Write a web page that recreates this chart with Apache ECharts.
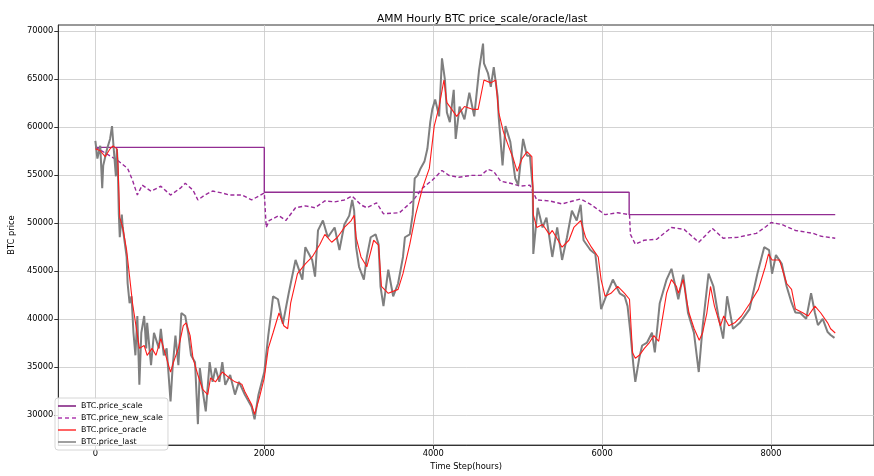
<!DOCTYPE html>
<html>
<head>
<meta charset="utf-8">
<script src="https://cdn.jsdelivr.net/npm/echarts@6/dist/echarts.min.js"></script>
<style>
  html, body { margin: 0; padding: 0; background: #fff; }
  #chart { width: 874px; height: 476px; }
</style>
</head>
<body>
<div id="chart"></div>
<script>
// tick labels
var xTicks = [0, 2000, 4000, 6000, 8000];
var yTicks = [30000, 35000, 40000, 45000, 50000, 55000, 60000, 65000, 70000];

// [hour, price]
var priceScale = [[0, 57870], [2000, 57870], [2000, 53200], [6320, 53200], [6320, 50870], [8760, 50870]];

var priceNewScale = [
  [0, 57900], [266, 56500], [382, 55680], [440, 54450], [497, 52920], [555, 53940], [659, 53320],
  [775, 53830], [890, 52910], [1006, 53630], [1064, 54140], [1156, 53420], [1214, 52400], [1295, 52910],
  [1388, 53330], [1503, 53120], [1584, 52920], [1734, 52920], [1850, 52400], [2000, 53120], [2023, 49540],
  [2058, 50260], [2174, 50770], [2255, 50260], [2370, 51590], [2486, 51790], [2601, 51590], [2717, 52300],
  [2832, 52200], [2948, 52400], [3040, 52810], [3144, 51890], [3214, 51590], [3330, 52100], [3410, 50970],
  [3600, 51070], [3757, 52300], [3873, 53630], [3988, 54450], [4104, 55470], [4185, 54960], [4301, 54760],
  [4451, 54960], [4566, 54960], [4648, 55580], [4717, 55370], [4798, 54350], [4914, 54140], [5029, 53840],
  [5145, 53940], [5226, 52400], [5376, 52300], [5526, 51990], [5746, 52510], [5873, 51890], [6035, 50870],
  [6185, 51070], [6324, 50870], [6335, 48820], [6393, 47800], [6497, 48210], [6647, 48310], [6820, 49540],
  [6971, 49340], [7144, 48000], [7306, 49440], [7433, 48420], [7607, 48520], [7827, 48930], [7942, 49640],
  [8000, 50050], [8127, 49850], [8289, 49230], [8497, 48930], [8595, 48620], [8760, 48420]
];

var priceOracle = [
  [0, 57730], [58, 57520], [116, 56900], [174, 57720], [208, 58030], [255, 57720], [266, 56390],
  [289, 50560], [324, 49540], [370, 47190], [405, 44430], [440, 41660], [486, 38990], [521, 36960],
  [578, 37260], [613, 36240], [671, 36960], [717, 36240], [775, 37980], [833, 36240], [890, 34500],
  [925, 35530], [983, 36960], [1041, 39330], [1075, 39620], [1122, 38290], [1156, 35930], [1214, 34190],
  [1272, 32660], [1330, 32150], [1364, 33890], [1422, 33480], [1503, 34500], [1584, 33890], [1653, 33480],
  [1734, 33240], [1769, 32470], [1850, 31130], [1885, 30100], [1942, 31840], [2000, 33890], [2047, 36960],
  [2104, 38590], [2174, 40640], [2231, 39310], [2277, 39000], [2312, 41660], [2393, 44730], [2486, 45750],
  [2567, 46470], [2659, 47800], [2717, 48820], [2798, 48000], [2867, 48520], [2948, 49540], [3029, 50260],
  [3064, 50800], [3087, 48500], [3145, 46470], [3214, 45450], [3295, 48210], [3353, 47700], [3387, 43400],
  [3468, 42690], [3584, 43100], [3642, 44730], [3723, 47800], [3792, 50870], [3873, 53630], [3954, 55680],
  [4012, 60080], [4070, 62120], [4127, 64880], [4162, 62530], [4220, 61820], [4278, 61100], [4370, 62120],
  [4474, 61820], [4532, 61820], [4601, 64880], [4682, 64580], [4740, 64880], [4775, 61510], [4832, 59450],
  [4890, 58030], [4948, 56700], [4994, 55370], [5052, 56700], [5110, 57420], [5168, 56900], [5179, 53940],
  [5185, 50870], [5226, 49540], [5295, 49850], [5376, 48820], [5410, 49230], [5526, 47490], [5607, 48210],
  [5665, 49540], [5746, 50260], [5804, 48520], [5873, 47490], [5954, 46470], [5988, 44120], [6035, 42380],
  [6104, 42690], [6185, 43400], [6266, 42690], [6324, 42070], [6360, 36500], [6393, 35930], [6440, 36240],
  [6500, 36960], [6560, 37570], [6613, 38290], [6670, 37700], [6705, 39620], [6763, 42690], [6821, 44120],
  [6880, 43400], [6902, 42690], [6960, 44120], [7000, 42000], [7029, 40640], [7090, 39000], [7150, 37800],
  [7190, 38590], [7240, 40640], [7283, 43400], [7330, 41360], [7400, 39310], [7440, 40330], [7500, 39310],
  [7570, 39620], [7650, 40330], [7750, 41660], [7850, 43100], [7930, 45400], [7970, 46780], [8012, 46160],
  [8100, 46160], [8185, 43710], [8243, 43100], [8289, 41050], [8381, 40640], [8439, 40330], [8520, 41360],
  [8589, 40640], [8670, 39620], [8705, 39000], [8760, 38560]
];

var priceLast = [
  [0, 58540], [24, 56700], [58, 58030], [81, 53630], [93, 55990], [139, 57720], [174, 58750], [197, 60080],
  [220, 57420], [243, 54860], [255, 57720], [266, 55680], [278, 50870], [289, 48520], [313, 50870],
  [324, 49540], [347, 49540], [370, 46470], [382, 43710], [405, 41660], [428, 42380], [451, 38590],
  [474, 36240], [497, 40330], [521, 33170], [544, 38590], [578, 40330], [602, 36960], [613, 39620],
  [659, 35220], [694, 38590], [752, 36960], [775, 39000], [810, 36240], [844, 36960], [890, 31430],
  [914, 34910], [948, 38290], [983, 35220], [1018, 40640], [1064, 40330], [1099, 38590], [1133, 36240],
  [1180, 35530], [1214, 29080], [1237, 34910], [1272, 32460], [1307, 30410], [1353, 35530], [1388, 33480],
  [1422, 34910], [1468, 33480], [1503, 35530], [1538, 33170], [1596, 34190], [1653, 32150], [1700, 33480],
  [1769, 32150], [1850, 30890], [1885, 29590], [1931, 32150], [2000, 34500], [2047, 38290], [2081, 40640],
  [2104, 42380], [2162, 42070], [2220, 39510], [2289, 42690], [2370, 46160], [2451, 44120], [2486, 47490],
  [2567, 46160], [2601, 44430], [2636, 49240], [2694, 50260], [2752, 48520], [2833, 49540], [2890, 47190],
  [2948, 49850], [3006, 50770], [3041, 52410], [3064, 51280], [3087, 47490], [3122, 45450], [3179, 44120],
  [3214, 46470], [3260, 48520], [3318, 48820], [3353, 47800], [3376, 43400], [3411, 41360], [3468, 45140],
  [3526, 42380], [3584, 43710], [3642, 46470], [3665, 48520], [3723, 48820], [3757, 50870], [3781, 54650],
  [3815, 54960], [3850, 55680], [3896, 56390], [3931, 57720], [3965, 60490], [3989, 61820], [4023, 62840],
  [4070, 61100], [4104, 67140], [4139, 64880], [4162, 61510], [4197, 60490], [4243, 63860], [4266, 58750],
  [4312, 62120], [4370, 60790], [4428, 63560], [4486, 61100], [4543, 65910], [4590, 68670], [4601, 66620],
  [4648, 65600], [4682, 64170], [4717, 66210], [4763, 63150], [4775, 61100], [4821, 55990], [4856, 60080],
  [4913, 58440], [4971, 54650], [5006, 53940], [5064, 58750], [5110, 57010], [5145, 57010], [5179, 53630],
  [5185, 46780], [5237, 51590], [5295, 49540], [5341, 50560], [5410, 46470], [5468, 49540], [5526, 46160],
  [5584, 48520], [5642, 51280], [5699, 50260], [5746, 51890], [5780, 48210], [5861, 47190], [5919, 46780],
  [5954, 44120], [5988, 41050], [6046, 42380], [6127, 44120], [6208, 42690], [6266, 42380], [6301, 41360],
  [6335, 38590], [6370, 35220], [6393, 33480], [6439, 35930], [6474, 37260], [6532, 37570], [6590, 38590],
  [6624, 36550], [6682, 41660], [6763, 44120], [6821, 45240], [6902, 42070], [6960, 44630], [7017, 40640],
  [7087, 38590], [7144, 34500], [7191, 39310], [7260, 44730], [7318, 43400], [7376, 40330], [7433, 37980],
  [7480, 42380], [7549, 38990], [7630, 39620], [7746, 41050], [7838, 44730], [7919, 47490], [7977, 47190],
  [8012, 44730], [8058, 46680], [8127, 45750], [8185, 43400], [8243, 41710], [8289, 40690], [8347, 40640],
  [8416, 40030], [8474, 42690], [8520, 40640], [8555, 39380], [8612, 40030], [8670, 38660], [8705, 38350],
  [8751, 38050]
];

var names = ['BTC.price_scale', 'BTC.price_new_scale', 'BTC.price_oracle', 'BTC.price_last'];
var font = 'DejaVu Sans';
// legend line samples (solid / dashed)
var solidIcon = 'path://M0,0H18V1.5H0Z';
var dashIcon = 'path://M0,0H4V1.5H0Z M7,0H11V1.5H7Z M14,0H18V1.5H14Z';

function plain(v) { return String(v); }

var chart = echarts.init(document.getElementById('chart'));
chart.setOption({
  animation: false,
  backgroundColor: '#fff',
  title: {
    text: 'AMM Hourly BTC price_scale/oracle/last',
    left: 372,
    top: 9,
    textStyle: { fontFamily: font, fontSize: 10.7, fontWeight: 'normal', color: '#000' }
  },
  legend: {
    data: [
      { name: names[0], icon: solidIcon },
      { name: names[1], icon: dashIcon },
      { name: names[2], icon: solidIcon },
      { name: names[3], icon: solidIcon }
    ],
    orient: 'vertical',
    left: 55,
    top: 398,
    itemWidth: 18,
    itemHeight: 1.5,
    itemGap: 2,
    padding: [3, 5, 3, 3],
    backgroundColor: 'rgba(255,255,255,0.85)',
    borderColor: '#d6d6d6',
    borderWidth: 1,
    borderRadius: 3,
    textStyle: { fontFamily: font, fontSize: 7.9, color: '#000', lineHeight: 10 }
  },
  grid: { left: 52, top: 25, width: 835, height: 426, show: true, borderColor: '#333', borderWidth: 1 },
  xAxis: {
    type: 'value',
    min: -439,
    max: 9219,
    name: 'Time Step(hours)',
    nameLocation: 'middle',
    nameGap: 17,
    nameTextStyle: { fontFamily: font, fontSize: 8.3, color: '#000' },
    axisLine: { show: true, onZero: false, lineStyle: { color: '#333' } },
    axisTick: { show: true, length: 4, customValues: xTicks, lineStyle: { color: '#333' } },
    axisLabel: { customValues: xTicks, formatter: plain, fontFamily: font, fontSize: 8.3, color: '#000', margin: 5 },
    splitLine: { show: true, lineStyle: { color: '#c8c8c8', width: 0.8 } }
  },
  yAxis: {
    type: 'value',
    min: 26900,
    max: 70600,
    name: 'BTC price',
    nameLocation: 'middle',
    nameGap: 35,
    nameTextStyle: { fontFamily: font, fontSize: 8.3, color: '#000' },
    axisLine: { show: true, onZero: false, lineStyle: { color: '#333' } },
    axisTick: { show: true, length: 4, customValues: yTicks, lineStyle: { color: '#333' } },
    axisLabel: { customValues: yTicks, formatter: plain, fontFamily: font, fontSize: 8.3, color: '#000', margin: 5 },
    splitLine: { show: true, lineStyle: { color: '#c8c8c8', width: 0.8 } }
  },
  series: [
    {
      name: names[0], type: 'line', data: priceScale, symbol: 'none', z: 2,
      lineStyle: { color: '#922d92', width: 1.4 }, itemStyle: { color: '#7d177d' }
    },
    {
      name: names[1], type: 'line', data: priceNewScale, symbol: 'none', z: 2,
      lineStyle: { color: '#9a2a9a', width: 1.4, type: [4, 2.5] }, itemStyle: { color: '#b03cb0' }
    },
    {
      name: names[3], type: 'line', data: priceLast, symbol: 'none', z: 3,
      lineStyle: { color: '#7f7f7f', width: 2 }, itemStyle: { color: '#7f7f7f' }
    },
    {
      name: names[2], type: 'line', data: priceOracle, symbol: 'none', z: 4,
      lineStyle: { color: '#ff1a1a', width: 1.1 }, itemStyle: { color: '#ff3030' }
    }
  ]
});
</script>
</body>
</html>
